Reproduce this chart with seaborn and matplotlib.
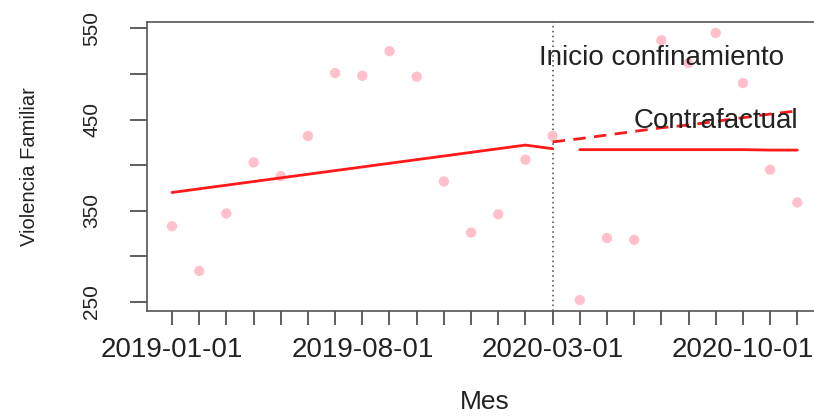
import numpy as np
import matplotlib
matplotlib.use("Agg")
import matplotlib.pyplot as plt
import seaborn as sns

# ----------------------------------------
# Data
# ----------------------------------------
months = ["2019-01-01", "2019-02-01", "2019-03-01", "2019-04-01", "2019-05-01", "2019-06-01",
          "2019-07-01", "2019-08-01", "2019-09-01", "2019-10-01", "2019-11-01", "2019-12-01",
          "2020-01-01", "2020-02-01", "2020-03-01", "2020-04-01", "2020-05-01", "2020-06-01",
          "2020-07-01", "2020-08-01", "2020-09-01", "2020-10-01", "2020-11-01", "2020-12-01"]
violencia = [333, 284, 347, 403, 388, 432, 501, 498, 525, 497, 382, 326,
             346, 406, 432, 252, 320, 318, 537, 512, 545, 490, 395, 359]

# fitted lines
pre_fit = [370, 374, 378, 382, 386, 390, 394, 398, 402, 406, 410, 414, 418, 422, 418]
post_fit = [417, 417, 417, 417, 417, 417, 417, 416.5, 416.5]
contrafactual = [425.5, 429, 433, 437, 441, 444, 448, 452, 456, 459.5]

tick_labels = ["2019-01-01", "2019-08-01", "2020-03-01", "2020-10-01"]
inicio = "2020-03-01"

x = np.arange(len(months))
i0 = months.index(inicio)

# ----------------------------------------
# Plot
# ----------------------------------------
sns.set_style("white")
plt.rcParams["font.family"] = ["Liberation Sans", "DejaVu Sans"]
txt = "#222222"

fig = plt.figure(figsize=(8.14, 4.18), dpi=100)
ax = fig.add_axes([147 / 814, 1 - 311 / 418, (822.3 - 147) / 814, (311 - 22) / 418])

sns.scatterplot(x=x, y=violencia, color="pink", s=55, edgecolor="none", ax=ax, zorder=2)
sns.lineplot(x=x[:i0 + 1], y=pre_fit, color="#ff1a1a", lw=2, ax=ax, zorder=3)
sns.lineplot(x=x[i0 + 1:], y=post_fit, color="#ff1a1a", lw=2, ax=ax, zorder=3)
sns.lineplot(x=x[i0:], y=contrafactual, color="#ff1a1a", lw=2,
             linestyle=(0, (4.5, 3)), ax=ax, zorder=3)
ax.axvline(i0, color="#444444", lw=1.1, linestyle=(0, (1, 2.2)), zorder=1)

ax.text(18, 509.7, "Inicio confinamiento", ha="center", va="baseline", fontsize=20, color=txt)
ax.text(20, 440.2, "Contrafactual", ha="center", va="baseline", fontsize=20, color=txt)

ax.set_xlim(-0.92, 23.92)
ax.set_ylim(240, 557)

ax.set_xticks(x)
ax.set_xticklabels([m if m in tick_labels else "" for m in months])
yt = np.arange(250, 551, 50)
ax.set_yticks(yt)
ax.set_yticklabels([str(v) if v % 100 == 50 else "" for v in yt], rotation=90, va="center")

ax.tick_params(axis="x", bottom=True, direction="out", length=10, width=1.1, pad=9,
               labelsize=20, colors="#333333", labelcolor=txt)
ax.tick_params(axis="y", left=True, direction="out", length=12, width=1.1, pad=21,
               labelsize=15, colors="#333333", labelcolor=txt)

for side in ["left", "bottom", "top"]:
    ax.spines[side].set_visible(True)
    ax.spines[side].set_color("#555555")
    ax.spines[side].set_linewidth(1.2)
ax.spines["right"].set_visible(False)

ax.set_xlabel("Mes", fontsize=19, color=txt, labelpad=19)
ax.set_ylabel("Violencia Familiar", fontsize=14.5, color=txt, labelpad=31)

fig.savefig("out.png", dpi=100)
